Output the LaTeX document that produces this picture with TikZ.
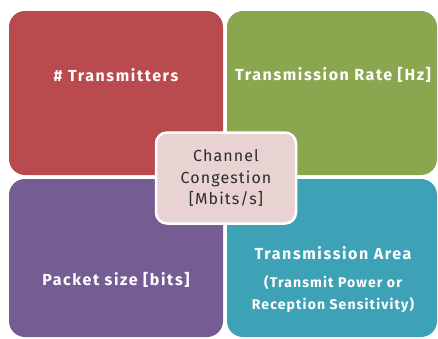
\documentclass[tikz,border=0pt]{standalone}
\usepackage{fontspec}
\setmainfont{Fira Sans}
\newfontfamily\wideb[LetterSpace=10]{Fira Sans}
\newfontfamily\widec[LetterSpace=8]{Fira Sans}
\newfontfamily\wider[LetterSpace=7]{Fira Sans}
\definecolor{qred}{HTML}{B94A4D}
\definecolor{qgreen}{HTML}{8AA74F}
\definecolor{qpurple}{HTML}{755D93}
\definecolor{qteal}{HTML}{3DA2B5}
\definecolor{qcenter}{HTML}{E8D3D2}
\definecolor{qtext}{HTML}{2B2B2B}
\tikzset{
  quad/.style={rectangle, rounded corners=16pt, draw=none, inner sep=0pt},
  qlabel/.style={text=white, font=\wideb\fontsize{16}{19}\selectfont\bfseries, align=center, inner sep=0pt},
  qsmall/.style={text=white, font=\widec\fontsize{14}{22}\selectfont\bfseries, align=center, inner sep=0pt},
  centerbox/.style={rectangle, rounded corners=11pt, fill=qcenter, draw=white, line width=2.5pt,
    minimum width=140pt, minimum height=91pt, text=qtext, align=center,
    font=\wider\fontsize{16}{21.5}\selectfont}
}
\begin{document}
\begin{tikzpicture}[x=1pt,y=-1pt]
\useasboundingbox[fill=white] (0,0) rectangle (438,338);
% quadrants
\node[quad, fill=qred, minimum width=214pt, minimum height=164pt] (red) at (116,93) {};
\node[quad, fill=qgreen, minimum width=210pt, minimum height=164pt] (green) at (332,93) {};
\node[quad, fill=qpurple, minimum width=214pt, minimum height=158pt] (purple) at (116,258) {};
\node[quad, fill=qteal, minimum width=210pt, minimum height=158pt] (teal) at (332,258) {};
% labels
\node[qlabel] (tred) at (116,75) {\#\ Transmitters};
\node[qlabel] (tgreen) at (333,75) {Transmission Rate [Hz]};
\node[qlabel] (tpurple) at (116,280) {Packet size [bits]};
\node[qlabel] (tteal) at (333,253) {Transmission Area};
\node[qsmall] (tteal2) at (333,294) {(Transmit Power or\\Reception Sensitivity)};
% center
\node[centerbox] (center) at (226,178) {Channel\\Congestion\\{[}Mbits/s{]}};
\end{tikzpicture}
\end{document}
